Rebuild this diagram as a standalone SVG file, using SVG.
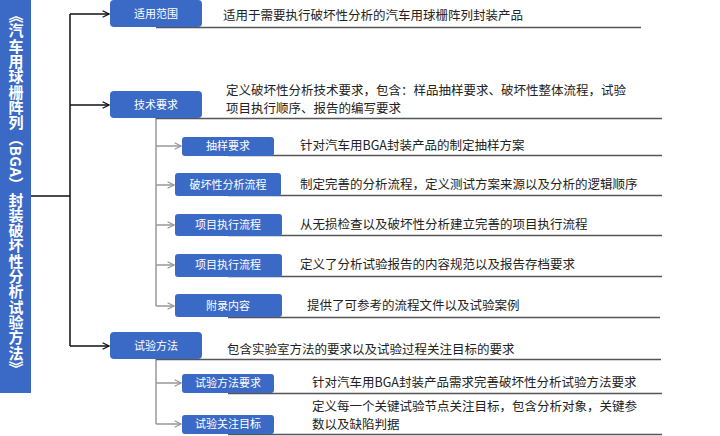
<svg xmlns="http://www.w3.org/2000/svg" width="720" height="436" viewBox="0 0 720 436">
<style>
.box{fill:#3b69c6}
.bt{fill:#fff;font-family:"Noto Sans CJK SC","Noto Sans",sans-serif;font-size:11px;text-anchor:middle}
.dt{fill:#222;font-family:"Noto Sans CJK SC","Noto Sans",sans-serif;font-size:12.5px}
.ul{stroke:#555;stroke-width:1.3}
.main{stroke:#111;stroke-width:1.5;fill:none}
.sub{stroke:#999;stroke-width:1.5;fill:none}
</style>
<defs>
<marker id="ab" viewBox="0 0 10 10" refX="9" refY="5" markerWidth="8" markerHeight="8" orient="auto" markerUnits="userSpaceOnUse"><path d="M1 1L9 5L1 9" fill="none" stroke="#111" stroke-width="1.5"/></marker>
<marker id="ag" viewBox="0 0 10 10" refX="9" refY="5" markerWidth="8" markerHeight="8" orient="auto" markerUnits="userSpaceOnUse"><path d="M1 1L9 5L1 9" fill="none" stroke="#999" stroke-width="1.5"/></marker>
</defs>
<g id="title">
<rect x="0" y="0" width="31" height="393" class="box"/>
<text x="16" y="8" fill="#fff" font-family="Noto Sans CJK SC,sans-serif" font-size="15" font-weight="bold" writing-mode="vertical-rl" letter-spacing="0.3">《汽车用球栅阵列（BGA）封装破坏性分析试验方法》</text>
</g>
<g id="connectors">
<path class="main" d="M31 196H70M70 14V346"/>
<path class="main" d="M70 14H109" marker-end="url(#ab)"/>
<path class="main" d="M70 105H109" marker-end="url(#ab)"/>
<path class="main" d="M70 346H109" marker-end="url(#ab)"/>
<path class="sub" d="M156 118V306M156 359V424"/>
<path class="sub" d="M156 146H181" marker-end="url(#ag)"/>
<path class="sub" d="M156 185H174" marker-end="url(#ag)"/>
<path class="sub" d="M156 225H174" marker-end="url(#ag)"/>
<path class="sub" d="M156 265H174" marker-end="url(#ag)"/>
<path class="sub" d="M156 306H174" marker-end="url(#ag)"/>
<path class="sub" d="M156 383H181" marker-end="url(#ag)"/>
<path class="sub" d="M156 424H181" marker-end="url(#ag)"/>
</g>
<g id="n1"><line class="ul" x1="156" y1="27.5" x2="641" y2="27.5"/><rect class="box" x="110" y="0" width="92" height="27" rx="4"/><text class="bt" x="156" y="18">适用范围</text><text class="dt" x="223" y="20">适用于需要执行破坏性分析的汽车用球栅阵列封装产品</text></g>
<g id="n2"><line class="ul" x1="156" y1="118.5" x2="662" y2="118.5"/><rect class="box" x="110" y="91" width="92" height="27" rx="4"/><text class="bt" x="156" y="109">技术要求</text><text class="dt" x="226" y="95">定义破坏性分析技术要求，包含：样品抽样要求、破坏性整体流程，试验</text><text class="dt" x="226" y="113">项目执行顺序、报告的编写要求</text></g>
<g id="n3"><line class="ul" x1="228" y1="155.5" x2="662" y2="155.5"/><rect class="box" x="182" y="137" width="92" height="19" rx="3"/><text class="bt" x="228" y="150">抽样要求</text><text class="dt" x="300" y="150">针对汽车用BGA封装产品的制定抽样方案</text></g>
<g id="n4"><line class="ul" x1="228" y1="195.5" x2="662" y2="195.5"/><rect class="box" x="175" y="173" width="106" height="23" rx="3"/><text class="bt" x="228" y="189">破坏性分析流程</text><text class="dt" x="300" y="189">制定完善的分析流程，定义测试方案来源以及分析的逻辑顺序</text></g>
<g id="n5"><line class="ul" x1="228" y1="235.5" x2="662" y2="235.5"/><rect class="box" x="175" y="214" width="107" height="22" rx="3"/><text class="bt" x="228" y="229">项目执行流程</text><text class="dt" x="300" y="229">从无损检查以及破坏性分析建立完善的项目执行流程</text></g>
<g id="n6"><line class="ul" x1="228" y1="276.5" x2="662" y2="276.5"/><rect class="box" x="175" y="254" width="107" height="23" rx="3"/><text class="bt" x="228" y="269">项目执行流程</text><text class="dt" x="300" y="269">定义了分析试验报告的内容规范以及报告存档要求</text></g>
<g id="n7"><line class="ul" x1="228" y1="317.5" x2="660" y2="317.5"/><rect class="box" x="175" y="294" width="107" height="23" rx="3"/><text class="bt" x="228" y="310">附录内容</text><text class="dt" x="307" y="310">提供了可参考的流程文件以及试验案例</text></g>
<g id="n8"><line class="ul" x1="156" y1="359.5" x2="661" y2="359.5"/><rect class="box" x="110" y="332" width="92" height="27" rx="4"/><text class="bt" x="156" y="350">试验方法</text><text class="dt" x="227" y="354">包含实验室方法的要求以及试验过程关注目标的要求</text></g>
<g id="n9"><line class="ul" x1="228" y1="393.5" x2="662" y2="393.5"/><rect class="box" x="182" y="374" width="92" height="19" rx="3"/><text class="bt" x="228" y="387">试验方法要求</text><text class="dt" x="312" y="387">针对汽车用BGA封装产品需求完善破坏性分析试验方法要求</text></g>
<g id="n10"><line class="ul" x1="228" y1="434.5" x2="662" y2="434.5"/><rect class="box" x="182" y="415" width="92" height="19" rx="3"/><text class="bt" x="228" y="428">试验关注目标</text><text class="dt" x="312" y="411">定义每一个关键试验节点关注目标，包含分析对象，关键参</text><text class="dt" x="312" y="429">数以及缺陷判据</text></g>
</svg>
